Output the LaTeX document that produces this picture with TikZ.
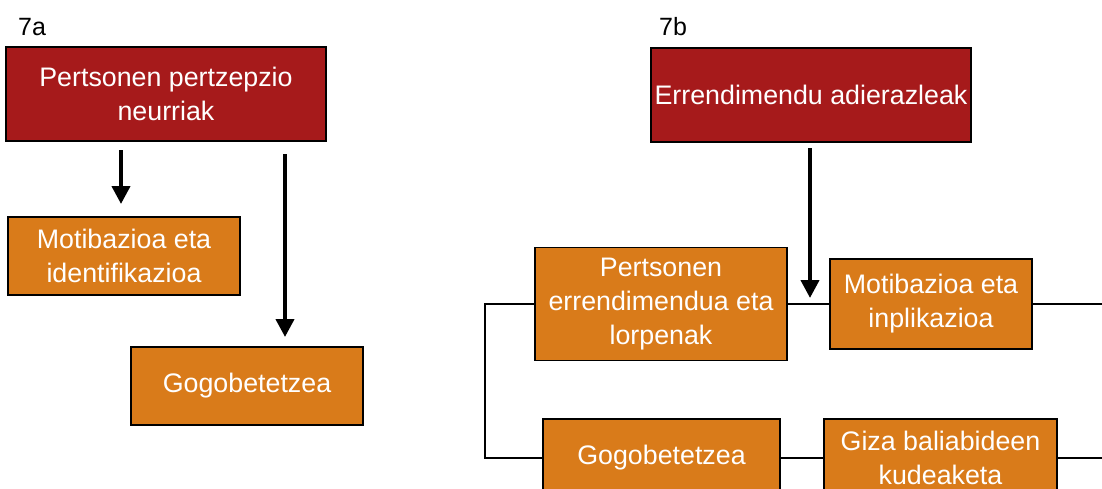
\documentclass[tikz,border=0pt]{standalone}
\usepackage{fontspec}
\setmainfont{Liberation Sans}
\usetikzlibrary{arrows.meta}
\definecolor{boxred}{RGB}{166,26,27}
\definecolor{boxorange}{RGB}{217,123,26}
\begin{document}
\begin{tikzpicture}[x=1pt,y=-1pt,
  box/.style={draw=black, line width=1.6pt, text=white, align=center,
    inner sep=0pt, font=\fontsize{26.8}{34}\selectfont},
  headbox/.style={box, fill=boxred},
  subbox/.style={box, fill=boxorange},
  flow/.style={line width=4pt, -{Triangle[length=18pt,width=18pt]}},
  link/.style={line width=1.5pt},
  tag/.style={font=\fontsize{25}{28}\selectfont, anchor=west, inner sep=0pt}]
\useasboundingbox (0,0) rectangle (1102,488);

% panel 7a
\node[tag] (ta) at (18,27) {7a};
\node[headbox, minimum width=320pt, minimum height=94pt] (r1) at (166,94)
  {Pertsonen pertzepzio\\neurriak};
\node[subbox, minimum width=232pt, minimum height=78pt] (m1) at (124,256)
  {Motibazioa eta\\identifikazioa};
\node[subbox, minimum width=232pt, minimum height=78pt] (g1) at (247,386)
  {Gogobetetzea};
\coordinate (a1s) at (121,150);
\coordinate (a1e) at (121,204);
\coordinate (a2s) at (285,154);
\coordinate (a2e) at (285,337);
\draw[flow] (a1s) -- (a1e);
\draw[flow] (a2s) -- (a2e);

% panel 7b
\node[tag] (tb) at (659,27) {7b};
\node[headbox, minimum width=320pt, minimum height=94pt] (r2) at (811,95)
  {Errendimendu adierazleak};
\node[subbox, minimum width=252pt, minimum height=113pt] (p2) at (661,304)
  {Pertsonen\\errendimendua eta\\lorpenak};
\node[subbox, minimum width=202pt, minimum height=90pt] (m2) at (931,304)
  {Motibazioa eta\\inplikazioa};
\node[subbox, minimum width=237pt, minimum height=78pt] (g2) at (661.5,458)
  {Gogobetetzea};
\node[subbox, minimum width=233pt, minimum height=78pt] (h2) at (940.5,458)
  {Giza baliabideen\\kudeaketa};
\coordinate (a3s) at (810,148);
\coordinate (a3e) at (810,298);
\coordinate (ra) at (1102,304);
\coordinate (rb) at (1102,458);
\draw[link] (p2.west) -- ++(-49,0) |- (g2.west);
\draw[link] (p2.east) -- (m2.west);
\draw[link] (m2.east) -- (ra);
\draw[link] (g2.east) -- (h2.west);
\draw[link] (h2.east) -- (rb);
\draw[flow] (a3s) -- (a3e);
\end{tikzpicture}
\end{document}
